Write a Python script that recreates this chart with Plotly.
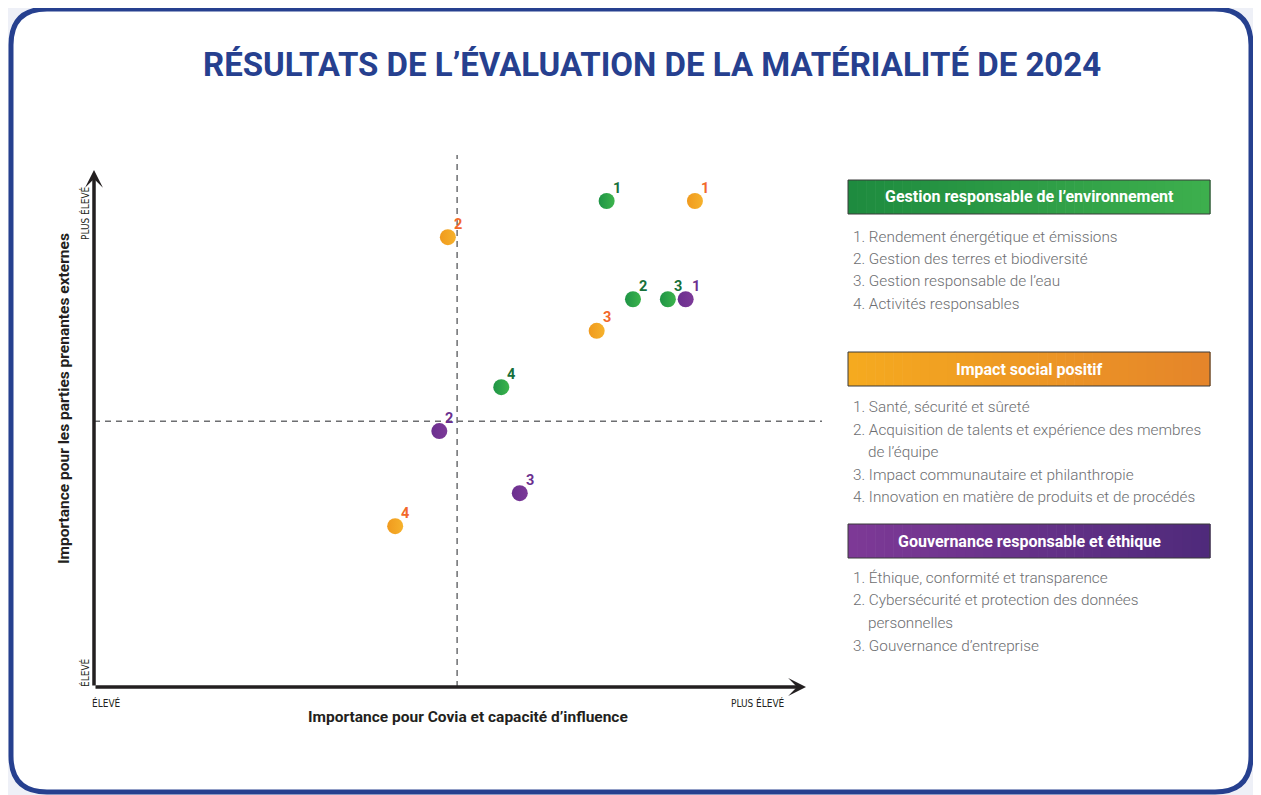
import plotly.graph_objects as go

# page is drawn with an 8px body margin, so the figure is sized to fill the rest
OFF = 8
W, H = 1261 - OFF, 795 - OFF

# ---------------- data ----------------
env_x = [72.0, 75.7, 80.6, 57.2]
env_y = [94.0, 75.0, 75.0, 58.0]
env_lbl = ["1", "2", "3", "4"]

soc_x = [84.4, 49.7, 70.6, 42.3]
soc_y = [94.0, 87.0, 68.9, 31.1]
soc_lbl = ["1", "2", "3", "4"]

gov_x = [83.1, 48.5, 59.8]
gov_y = [75.0, 49.5, 37.5]
gov_lbl = ["1", "2", "3"]

threshold_x = 51.0
threshold_y = 51.4

title = "RÉSULTATS DE L’ÉVALUATION DE LA MATÉRIALITÉ DE 2024"
x_title = "Importance pour Covia et capacité d’influence"
y_title = "Importance pour les parties prenantes externes"
low_lbl = "ÉLEVÉ"
high_lbl = "PLUS ÉLEVÉ"

cat_names = ["Gestion responsable de l’environnement",
             "Impact social positif",
             "Gouvernance responsable et éthique"]
env_items = ["1. Rendement énergétique et émissions",
             "2. Gestion des terres et biodiversité",
             "3. Gestion responsable de l’eau",
             "4. Activités responsables"]
soc_items = ["1. Santé, sécurité et sûreté",
             "2. Acquisition de talents et expérience des membres",
             "    de l’équipe",
             "3. Impact communautaire et philanthropie",
             "4. Innovation en matière de produits et de procédés"]
gov_items = ["1. Éthique, conformité et transparence",
             "2. Cybersécurité et protection des données",
             "    personnelles",
             "3. Gouvernance d’entreprise"]

# ---------------- styles ----------------
NAVY = "#26408f"
DARK = "#231f20"
GRAY = "#6d6e71"

def X(px):
    return (px - OFF) / W

def Y(py):
    return 1 - (py - OFF) / H

fig = go.Figure()
annotations = []

series = [
    (env_x, env_y, env_lbl, "#1f9446", "#3cb44c", "#17703a"),
    (soc_x, soc_y, soc_lbl, "#f09a1e", "#f6b22c", "#f2682a"),
    (gov_x, gov_y, gov_lbl, "#6b2f8f", "#7c3a98", "#6b2f8f"),
]
for xs, ys, lb, c0, c1, tc in series:
    fig.add_trace(go.Scatter(
        x=xs, y=ys, mode="markers",
        marker=dict(size=16, color=c0, line=dict(width=0),
                    gradient=dict(type="horizontal", color=c1)),
        hoverinfo="skip", showlegend=False, cliponaxis=False,
    ))
    for xv, yv, t in zip(xs, ys, lb):
        annotations.append(dict(x=xv, y=yv, xref="x", yref="y", text=f"<b>{t}</b>",
                                showarrow=False, xshift=10, yshift=13,
                                font=dict(family="Roboto", size=14.5, color=tc)))

shapes = []
def rounded(x0, y0, x1, y1, r):
    return (f"M {X(x0+r)},{Y(y0)} L {X(x1-r)},{Y(y0)} Q {X(x1)},{Y(y0)} {X(x1)},{Y(y0+r)} "
            f"L {X(x1)},{Y(y1-r)} Q {X(x1)},{Y(y1)} {X(x1-r)},{Y(y1)} "
            f"L {X(x0+r)},{Y(y1)} Q {X(x0)},{Y(y1)} {X(x0)},{Y(y1-r)} "
            f"L {X(x0)},{Y(y0+r)} Q {X(x0)},{Y(y0)} {X(x0+r)},{Y(y0)} Z")

shapes.append(dict(type="path", xref="paper", yref="paper",
                   path=rounded(11, 9, 1251, 792, 36),
                   fillcolor="white", line=dict(color=NAVY, width=5), layer="below"))

# threshold dashed lines
shapes.append(dict(type="line", xref="x", yref="paper", x0=threshold_x, x1=threshold_x,
                   y0=Y(687), y1=Y(155), line=dict(color="#6d6e71", width=1.5, dash="6px,5px"),
                   layer="below"))
shapes.append(dict(type="line", xref="paper", yref="y", x0=X(94), x1=X(822),
                   y0=threshold_y, y1=threshold_y,
                   line=dict(color="#6d6e71", width=1.5, dash="6px,5px"), layer="below"))

def hexrgb(h):
    h = h.lstrip("#")
    return tuple(int(h[i:i+2], 16) for i in (0, 2, 4))

def grad_box(x0, x1, y0, y1, c0, c1, n=40):
    a, b = hexrgb(c0), hexrgb(c1)
    step = (x1 - x0) / n
    for i in range(n):
        t = i / (n - 1)
        col = "rgb(%d,%d,%d)" % tuple(round(a[k] + (b[k] - a[k]) * t) for k in range(3))
        shapes.append(dict(type="rect", xref="paper", yref="paper",
                           x0=X(x0 + i * step), x1=X(x0 + (i + 1) * step + 0.6),
                           y0=Y(y1), y1=Y(y0), fillcolor=col, line=dict(width=0)))
    shapes.append(dict(type="rect", xref="paper", yref="paper",
                       x0=X(x0), x1=X(x1), y0=Y(y1), y1=Y(y0),
                       fillcolor="rgba(0,0,0,0)", line=dict(color="#3a3a3a", width=1)))

boxes = [
    (180, 214, "#1e8b3f", "#3daf4d", env_items, [237, 259, 281, 304]),
    (352, 386, "#f5aa1f", "#e5852a", soc_items, [407, 430, 452, 475, 497]),
    (524, 558, "#7d3996", "#4f2a7b", gov_items, [578, 600, 623, 646]),
]
for (by0, by1, c0, c1, items, ys), name in zip(boxes, cat_names):
    grad_box(848, 1210, by0, by1, c0, c1)
    annotations.append(dict(xref="paper", yref="paper", x=X(1029), y=Y((by0 + by1) / 2),
                            text=f"<b>{name}</b>", showarrow=False,
                            font=dict(family="Roboto", size=16, color="white"),
                            xanchor="center", yanchor="middle"))
    for it, yy in zip(items, ys):
        annotations.append(dict(xref="paper", yref="paper", x=X(851), y=Y(yy),
                                text=it.replace("    ", "&nbsp;&nbsp;&nbsp;&nbsp;"),
                                showarrow=False,
                                font=dict(family="Roboto", size=15.3, color=GRAY, weight=300),
                                xanchor="left", yanchor="middle"))

# axis arrows
annotations.append(dict(x=100, y=0, ax=0, ay=0, xref="x", yref="y", axref="x", ayref="y",
                        showarrow=True, arrowhead=3, arrowsize=0.85, arrowwidth=3.5,
                        arrowcolor=DARK, text=""))
annotations.append(dict(x=0, y=100, ax=0, ay=0, xref="x", yref="y", axref="x", ayref="y",
                        showarrow=True, arrowhead=3, arrowsize=0.85, arrowwidth=3.5,
                        arrowcolor=DARK, text=""))

# title
annotations.append(dict(xref="paper", yref="paper", x=X(652), y=Y(65), text=f"<b>{title}</b>",
                        showarrow=False, xanchor="center", yanchor="middle",
                        font=dict(family="Roboto", size=33, color=NAVY, weight=900)))
# axis titles
annotations.append(dict(xref="paper", yref="paper", x=X(468), y=Y(717), text=f"<b>{x_title}</b>",
                        showarrow=False, xanchor="center", yanchor="middle",
                        font=dict(family="Roboto", size=15.5, color=DARK)))
annotations.append(dict(xref="paper", yref="paper", x=X(64), y=Y(399), text=f"<b>{y_title}</b>",
                        showarrow=False, xanchor="center", yanchor="middle", textangle=-90,
                        font=dict(family="Roboto", size=15.5, color=DARK)))
small = dict(family="Liberation Sans Narrow, DejaVu Sans Condensed, Roboto", size=10, color=DARK)
annotations.append(dict(xref="paper", yref="paper", x=X(85), y=Y(213), text=high_lbl,
                        showarrow=False, textangle=-90, xanchor="center", yanchor="middle", font=small))
annotations.append(dict(xref="paper", yref="paper", x=X(85), y=Y(673), text=low_lbl,
                        showarrow=False, textangle=-90, xanchor="center", yanchor="middle", font=small))
annotations.append(dict(xref="paper", yref="paper", x=X(106), y=Y(703), text=low_lbl,
                        showarrow=False, xanchor="center", yanchor="middle", font=small))
annotations.append(dict(xref="paper", yref="paper", x=X(758), y=Y(703), text=high_lbl,
                        showarrow=False, xanchor="center", yanchor="middle", font=small))

fig.update_layout(
    width=W, height=H, margin=dict(l=0, r=0, t=0, b=0),
    paper_bgcolor="#eef0f7", plot_bgcolor="rgba(0,0,0,0)",
    xaxis=dict(domain=[X(94), X(806)], range=[0, 100], visible=False, fixedrange=True),
    yaxis=dict(domain=[Y(687), Y(170)], range=[0, 100], visible=False, fixedrange=True),
    shapes=shapes, annotations=annotations, showlegend=False,
)

fig.write_html("out.html", config=dict(displayModeBar=False))
